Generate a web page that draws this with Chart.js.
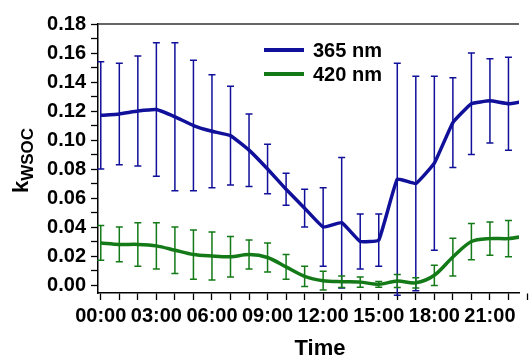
<!DOCTYPE html>
<html>
<head>
<meta charset="utf-8">
<script src="https://cdn.jsdelivr.net/npm/chart.js@4.4.1/dist/chart.umd.min.js"></script>
<style>
html,body{margin:0;padding:0;background:#fff;}
</style>
</head>
<body>
<canvas id="kChart" width="531" height="357"></canvas>
<script>
// data
const hours=[0,1,2,3,4,5,6,7,8,9,10,11,12,13,14,15,16,17,18,19,20,21,22,23];
const timeLabels=['00:00','03:00','06:00','09:00','12:00','15:00','18:00','21:00'];
const yTicks=[0,0.01,0.02,0.03,0.04,0.05,0.06,0.07,0.08,0.09,0.10,0.11,0.12,0.13,0.14,0.15,0.16,0.17,0.18];
const seriesNames=['365 nm','420 nm'];
const k365=[0.117,0.118,0.120,0.121,0.116,0.110,0.106,0.103,0.093,0.080,0.066,0.053,0.040,0.043,0.030,0.031,0.073,0.070,0.084,0.112,0.125,0.127,0.125,0.127];
const err365=[0.037,0.035,0.038,0.046,0.051,0.045,0.039,0.034,0.025,0.017,0.011,0.013,0.027,0.045,0.019,0.018,0.080,0.074,0.060,0.031,0.035,0.029,0.032,0.030];
const k420=[0.029,0.028,0.028,0.027,0.024,0.021,0.020,0.0195,0.021,0.019,0.0125,0.006,0.003,0.0023,0.002,0.0005,0.0028,0.0015,0.0067,0.0193,0.030,0.032,0.032,0.034];
const err420=[0.012,0.012,0.015,0.016,0.016,0.017,0.0165,0.014,0.010,0.010,0.0085,0.007,0.0065,0.004,0.0035,0.002,0.0045,0.0035,0.007,0.013,0.0125,0.0115,0.0125,0.012];

const BLUE='#10109a', GREEN='#137a17';
const FONT='"Liberation Sans", Arial, sans-serif';

// error bars drawn under the lines
const errorBars={
  id:'errorBars',
  beforeDatasetsDraw(chart){
    const {ctx,scales:{x,y}}=chart;
    chart.data.datasets.forEach((ds,di)=>{
      ctx.save();
      ctx.strokeStyle=ds.borderColor;
      ctx.lineWidth=1.5;
      ds.data.forEach((p,i)=>{
        if(p.x<x.min||p.x>x.max)return;
        const px=x.getPixelForValue(p.x);
        const top=y.getPixelForValue(p.y+ds.errors[i]);
        const bot=y.getPixelForValue(p.y-ds.errors[i]);
        ctx.beginPath();
        ctx.moveTo(px,top);ctx.lineTo(px,bot);
        ctx.moveTo(px-3.5,top);ctx.lineTo(px+3.5,top);
        ctx.moveTo(px-3.5,bot);ctx.lineTo(px+3.5,bot);
        ctx.stroke();
      });
      ctx.restore();
    });
  }
};

// top frame, legend and the axis titles
const decor={
  id:'decor',
  afterDraw(chart){
    const {ctx,chartArea:a}=chart;
    ctx.save();
    ctx.strokeStyle='#333';
    ctx.lineWidth=1.5;
    ctx.beginPath();ctx.moveTo(a.left,a.top);ctx.lineTo(a.right,a.top);ctx.stroke();

    chart.data.datasets.forEach((ds,i)=>{
      const ly=50+i*24;
      ctx.strokeStyle=ds.borderColor;
      ctx.lineWidth=4;
      ctx.beginPath();ctx.moveTo(264,ly);ctx.lineTo(304,ly);ctx.stroke();
      ctx.fillStyle='#000';
      ctx.font='bold 20px '+FONT;
      ctx.textBaseline='middle';
      ctx.fillText(ds.label,313,ly+1);
    });

    ctx.fillStyle='#000';
    ctx.textBaseline='alphabetic';
    ctx.textAlign='center';
    ctx.font='bold 22px '+FONT;
    ctx.fillText('Time',320,355);
    ctx.textAlign='left';

    ctx.translate(28,193);
    ctx.rotate(-Math.PI/2);
    ctx.font='bold 22px '+FONT;
    ctx.fillText('k',0,0);
    const kw=ctx.measureText('k').width;
    ctx.font='bold 17px '+FONT;
    ctx.fillText('WSOC',kw,5);
    ctx.restore();
  }
};

new Chart(document.getElementById('kChart'),{
  type:'line',
  data:{
    datasets:[
      {label:seriesNames[0],data:hours.map((h,i)=>({x:h,y:k365[i]})),errors:err365,
       borderColor:BLUE,borderWidth:3.5,tension:0.1,pointRadius:0},
      {label:seriesNames[1],data:hours.map((h,i)=>({x:h,y:k420[i]})),errors:err420,
       borderColor:GREEN,borderWidth:3.5,tension:0.3,pointRadius:0}
    ]
  },
  options:{
    responsive:false,
    animation:false,
    layout:{padding:{top:24,right:0,left:0,bottom:0}},
    plugins:{legend:{display:false},tooltip:{enabled:false}},
    scales:{
      x:{
        type:'linear',min:-0.15,max:22.57,
        afterBuildTicks(s){s.ticks=hours.map(h=>({value:h}));},
        afterFit(s){s.height=64;},
        ticks:{autoSkip:false,maxRotation:0,padding:4,color:'#000',
          font:{family:FONT,size:20,weight:'bold'},
          callback:v=>v%3===0?timeLabels[v/3]:''},
        grid:{drawOnChartArea:false,drawTicks:true,tickLength:7,tickColor:'#000',tickWidth:1.3},
        border:{display:true,color:'#000',width:1.5}
      },
      y:{
        min:-0.0055,max:0.18,
        afterBuildTicks(s){s.ticks=yTicks.map(v=>({value:v}));},
        afterFit(s){s.width=98;},
        ticks:{autoSkip:false,padding:5,color:'#000',
          font:{family:FONT,size:20,weight:'bold'},
          callback:(v,i)=>i%2===0?v.toFixed(2):''},
        grid:{drawOnChartArea:false,drawTicks:true,tickLength:7,tickColor:'#000',tickWidth:1.3},
        border:{display:true,color:'#000',width:1.5}
      }
    }
  },
  plugins:[errorBars,decor]
});
</script>
</body>
</html>
